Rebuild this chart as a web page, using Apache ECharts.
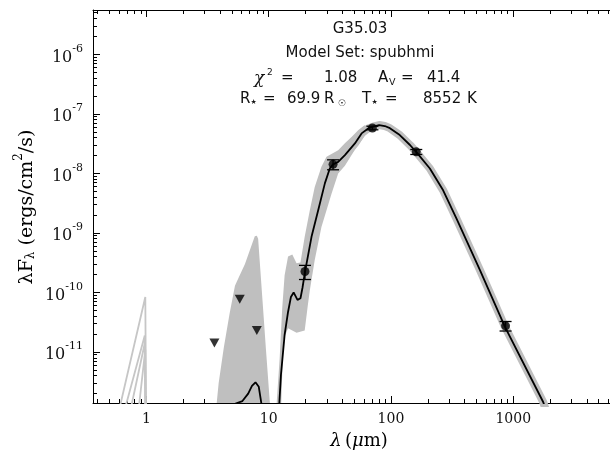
<!DOCTYPE html>
<html>
<head>
<meta charset="utf-8">
<script src="https://cdn.jsdelivr.net/npm/echarts@6.0.0/dist/echarts.min.js"></script>
<style>
  html, body { margin: 0; padding: 0; background: #ffffff; }
  #chart { width: 610px; height: 454px; }
</style>
</head>
<body>
<div id="chart"></div>
<script>
// Axis ranges (wavelength in micron, lambda*F_lambda in erg/cm^2/s)
const X_MIN = 0.366, X_MAX = 6180;
const Y_MIN = 1.39e-12, Y_MAX = 5.56e-6;

// Major tick values
const xTickValues = [1, 10, 100, 1000];
const yTickValues = [1e-11, 1e-10, 1e-9, 1e-8, 1e-7, 1e-6];

// Best-fitting model SED [lambda, lambdaF_lambda]
const bestFit = [
  [4.6, 5e-13], [5.3, 1.35e-12], [6.1, 1.5e-12], [6.8, 2.0e-12], [7.3, 2.7e-12],
  [7.8, 3.1e-12], [8.3, 2.6e-12], [8.7, 1.4e-12], [9.2, 4e-13], [10.5, 2e-14],
  [11.8, 4e-13], [12.6, 4.1e-12], [13.5, 1.94e-11], [14.4, 4.7e-11], [15.2, 8.4e-11],
  [16.0, 1.0e-10], [17.2, 7.5e-11], [18.2, 8.0e-11], [18.9, 1.2e-10], [19.8, 2.2e-10],
  [22.4, 8.6e-10], [25.4, 2.4e-9], [28.8, 6.8e-9], [31.6, 1.21e-8], [33.6, 1.42e-8],
  [37.0, 1.56e-8], [42.0, 2.03e-8], [50.7, 3.19e-8], [57.5, 4.7e-8], [65.1, 5.7e-8],
  [71.5, 6.1e-8], [80, 6.5e-8], [89, 6.25e-8], [98, 5.75e-8], [118, 4.4e-8],
  [143, 3.0e-8], [162, 2.25e-8], [208, 1.21e-8], [267, 5.2e-9], [345, 1.7e-9],
  [533, 2.4e-10], [855, 2.65e-11], [1760, 1.43e-12], [2200, 3.5e-13]
];

// Envelope of the other good-fit models, 3.7-10 micron (filled down to the axis)
const nirBand = [
  [3.7, 1.0e-12], [3.9, 3.0e-12], [4.3, 1.2e-11], [4.8, 4.5e-11], [5.3, 1.3e-10],
  [5.7, 1.8e-10], [6.4, 3.0e-10], [7.2, 6.0e-10], [7.7, 8.8e-10], [8.0, 9.0e-10],
  [8.2, 8.0e-10], [8.9, 7.4e-11], [9.5, 1.1e-11], [10.2, 1.5e-12], [10.4, 1.0e-12]
];

// Envelope of the good-fit models, 11-60 micron (upper and lower edges)
const midBandUpper = [
  [11.5, 1.0e-12], [12.3, 7.9e-12], [12.9, 5.4e-11], [13.5, 1.95e-10], [14.4, 4.0e-10],
  [15.6, 4.35e-10], [16.9, 3.1e-10], [18.2, 3.2e-10], [19.0, 5.5e-10], [19.7, 8.6e-10],
  [21.7, 2.4e-9], [23.8, 5.9e-9], [27.0, 1.29e-8], [29.7, 1.9e-8], [37.0, 2.46e-8],
  [42.0, 3.2e-8], [47.6, 4.1e-8], [53.9, 5.3e-8], [61.1, 6.5e-8]
];
const midBandLower = [
  [12.6, 1.0e-12], [13.2, 1.6e-11], [14.4, 2.5e-11], [16.9, 2.1e-11], [19.7, 2.3e-11],
  [20.9, 6.1e-11], [21.7, 1.09e-10], [23.8, 3.5e-10], [27.0, 1.26e-9], [32.7, 4.6e-9],
  [37.0, 1.0e-8], [42.0, 1.35e-8], [50.7, 2.5e-8], [61.1, 4.3e-8]
];

// Short-wavelength tails of a few models near 1 micron
const shortModels = [
  [[0.58, 8e-13], [0.98, 8.4e-11], [1.0, 1e-13]],
  [[0.64, 8e-13], [0.97, 1.9e-11], [0.99, 1e-13]],
  [[0.72, 8e-13], [0.97, 1.4e-11], [0.99, 1e-13]],
  [[0.85, 8e-13], [0.98, 1.1e-11], [1.0, 1e-13]]
];

// Measured fluxes with errors
const detLambda = [19.8, 33.6, 70.5, 161, 865];
const detFlux   = [2.25e-10, 1.42e-8, 5.8e-8, 2.3e-8, 2.75e-11];
const detError  = [0.6e-10, 0.27e-8, 0.4e-8, 0.22e-8, 0.5e-11];

// Upper limits
const ulLambda = [3.6, 5.8, 8.0];
const ulFlux   = [1.42e-11, 7.7e-11, 2.3e-11];

// Fit summary
const sourceName = 'G35.03';
const modelSet = 'spubhmi';
const chi2 = '1.08';
const av = '41.4';
const rStar = '69.9';
const tStar = '8552';

// Minor tick positions (2..9 x 10^n)
function minorTicks(lo, hi, d0, d1) {
  const out = [];
  for (let d = d0; d <= d1; d++) {
    for (let k = 2; k <= 9; k++) {
      const v = k * Math.pow(10, d);
      if (v > lo && v < hi) out.push(v);
    }
  }
  return out;
}
const xMinor = minorTicks(X_MIN, X_MAX, -1, 3);
const yMinor = minorTicks(Y_MIN, Y_MAX, -12, -6);

const GRAY = '#bfbfbf';
const INK = '#111';
const SERIF = '"DejaVu Serif", "Liberation Serif", serif';
const SANS = '"DejaVu Sans", "Noto Sans", sans-serif';

function polygonSeries(points, color) {
  return {
    type: 'custom',
    coordinateSystem: 'cartesian2d',
    xAxisIndex: 0, yAxisIndex: 0,
    silent: true,
    clip: true,
    z: 1,
    data: [points[0]],
    renderItem: function (params, api) {
      return {
        type: 'polygon',
        shape: { points: points.map(function (p) { return api.coord(p); }) },
        style: { fill: color, stroke: null }
      };
    }
  };
}

const nirPolygon = nirBand.slice();
const midPolygon = midBandUpper.concat(midBandLower.slice().reverse());

function makeX(position, ticks, len, showLine, showLabel) {
  return {
    type: 'log', min: X_MIN, max: X_MAX, position: position,
    axisLine: { show: showLine, onZero: false, lineStyle: { color: '#000', width: 1 } },
    axisTick: { show: true, inside: true, length: len, customValues: ticks, lineStyle: { color: '#000', width: 1 } },
    axisLabel: {
      show: showLabel, customValues: xTickValues, margin: 9,
      fontFamily: SERIF, fontSize: 14, color: INK,
      formatter: function (v) { return String(Math.round(v)); }
    },
    splitLine: { show: false }, minorTick: { show: false }
  };
}
function makeY(ticks, len, showLine, showLabel) {
  return {
    type: 'log', min: Y_MIN, max: Y_MAX, position: 'left',
    axisLine: { show: showLine, onZero: false, lineStyle: { color: '#000', width: 1 } },
    axisTick: { show: true, inside: true, length: len, customValues: ticks, lineStyle: { color: '#000', width: 1 } },
    axisLabel: {
      show: showLabel, customValues: yTickValues, margin: 10,
      formatter: function (v) { return '{b|10}{s|' + Math.round(Math.log10(v)) + '}'; },
      rich: {
        b: { fontFamily: SERIF, fontSize: 16, color: INK, lineHeight: 22, verticalAlign: 'bottom' },
        s: { fontFamily: SERIF, fontSize: 11, color: INK, lineHeight: 8, verticalAlign: 'top' }
      }
    },
    splitLine: { show: false }, minorTick: { show: false }
  };
}

const chart = echarts.init(document.getElementById('chart'), null, { renderer: 'canvas' });

const series = [
  polygonSeries(nirPolygon, GRAY),
  polygonSeries(midPolygon, GRAY),
  {
    type: 'line', data: bestFit.filter(function (p) { return p[0] >= 19; }),
    showSymbol: false, silent: true, z: 2, clip: true,
    lineStyle: { color: GRAY, width: 8, cap: 'round', join: 'round' }
  }
];
shortModels.forEach(function (m) {
  series.push({
    type: 'line', data: m, showSymbol: false, silent: true, z: 2, clip: true,
    lineStyle: { color: '#c6c6c6', width: 1.8 }
  });
});
series.push({
  type: 'line', data: bestFit, showSymbol: false, silent: true, z: 3, clip: true,
  lineStyle: { color: '#000', width: 1.8 }
});
series.push({
  type: 'custom', coordinateSystem: 'cartesian2d', z: 4, silent: true,
  data: detLambda.map(function (l, i) { return [l, detFlux[i] - detError[i], detFlux[i] + detError[i]]; }),
  encode: { x: 0, y: [1, 2] },
  renderItem: function (params, api) {
    const lo = api.coord([api.value(0), api.value(1)]);
    const hi = api.coord([api.value(0), api.value(2)]);
    const w = 6, st = { stroke: '#000', lineWidth: 1.3 };
    return {
      type: 'group', children: [
        { type: 'line', shape: { x1: lo[0], y1: lo[1], x2: hi[0], y2: hi[1] }, style: st },
        { type: 'line', shape: { x1: lo[0] - w, y1: lo[1], x2: lo[0] + w, y2: lo[1] }, style: st },
        { type: 'line', shape: { x1: hi[0] - w, y1: hi[1], x2: hi[0] + w, y2: hi[1] }, style: st }
      ]
    };
  }
});
series.push({
  type: 'scatter', z: 5, silent: true,
  data: detLambda.map(function (l, i) { return [l, detFlux[i]]; }),
  symbol: 'circle', symbolSize: 9, itemStyle: { color: '#000' }
});
series.push({
  type: 'scatter', z: 5, silent: true,
  data: ulLambda.map(function (l, i) { return [l, ulFlux[i]]; }),
  symbol: 'triangle', symbolRotate: 180, symbolSize: [10, 9], itemStyle: { color: '#000' }
});

// Text helpers for the fit summary block
function piece(x, y, text, size, family, style, align) {
  return {
    type: 'text', x: x, y: y, silent: true, z: 10,
    style: {
      text: text, fill: INK, textAlign: align || 'left', textVerticalAlign: 'middle',
      fontSize: size, fontFamily: family, fontStyle: style || 'normal'
    }
  };
}
const FS = 15;
const summary = [
  piece(360, 29.5, sourceName, FS, SANS, null, 'center'),
  piece(360, 53.5, 'Model Set: ' + modelSet, FS, SANS, null, 'center'),
  // chi^2 = ...   A_V = ...
  piece(254, 78.5, 'χ', 17, SERIF, 'italic'),
  piece(267, 73, '2', 9, SANS),
  piece(281, 78.5, '=', FS, SANS),
  piece(324, 78.5, chi2, FS, SANS),
  piece(378, 78.5, 'A', FS, SANS),
  piece(389, 82.5, 'V', 9.5, SANS),
  piece(401, 78.5, '=', FS, SANS),
  piece(427, 78.5, av, FS, SANS),
  // R* = ... Rsun   T* = ... K
  piece(240, 99.5, 'R', FS, SANS),
  piece(250.5, 102, '★', 7, SANS),
  piece(263, 99.5, '=', FS, SANS),
  piece(287, 99.5, rStar, FS, SANS),
  piece(324, 99.5, 'R', FS, SANS),
  piece(338, 103.5, '☉', 9, SANS),
  piece(362, 99.5, 'T', FS, SANS),
  piece(371.5, 102, '★', 7, SANS),
  piece(385, 99.5, '=', FS, SANS),
  piece(423, 99.5, tStar, FS, SANS),
  piece(467, 99.5, 'K', FS, SANS)
];

chart.setOption({
  animation: false,
  backgroundColor: '#ffffff',
  grid: { left: 93, top: 10, right: 0, bottom: 51, containLabel: false, outerBoundsMode: 'none' },
  xAxis: [
    makeX('bottom', xTickValues, 7, true, true),
    makeX('bottom', xMinor, 4, false, false),
    makeX('top', xTickValues, 7, true, false),
    makeX('top', xMinor, 4, false, false)
  ],
  yAxis: [
    makeY(yTickValues, 7, true, true),
    makeY(yMinor, 4, false, false)
  ],
  series: series,
  graphic: summary.concat([
    {
      type: 'text', x: 25, y: 207, rotation: Math.PI / 2, silent: true,
      style: {
        text: '{a|λF}{sb|λ}{a| (ergs/cm}{sp|2}{a|/s)}',
        textAlign: 'center', textVerticalAlign: 'middle',
        rich: {
          a: { fontFamily: SERIF, fontSize: 19, color: INK, lineHeight: 24, verticalAlign: 'bottom' },
          sb: { fontFamily: SERIF, fontSize: 12, color: INK, lineHeight: 13, verticalAlign: 'bottom' },
          sp: { fontFamily: SERIF, fontSize: 12, color: INK, lineHeight: 9, verticalAlign: 'top' }
        }
      }
    },
    {
      type: 'text', x: 359, y: 441, silent: true,
      style: {
        text: '{i|λ} {a|(}{i|μ}{a|m)}',
        textAlign: 'center', textVerticalAlign: 'middle',
        rich: {
          a: { fontFamily: SERIF, fontSize: 18, color: INK },
          i: { fontFamily: SERIF, fontStyle: 'italic', fontSize: 18, color: INK }
        }
      }
    }
  ])
});
</script>
</body>
</html>
